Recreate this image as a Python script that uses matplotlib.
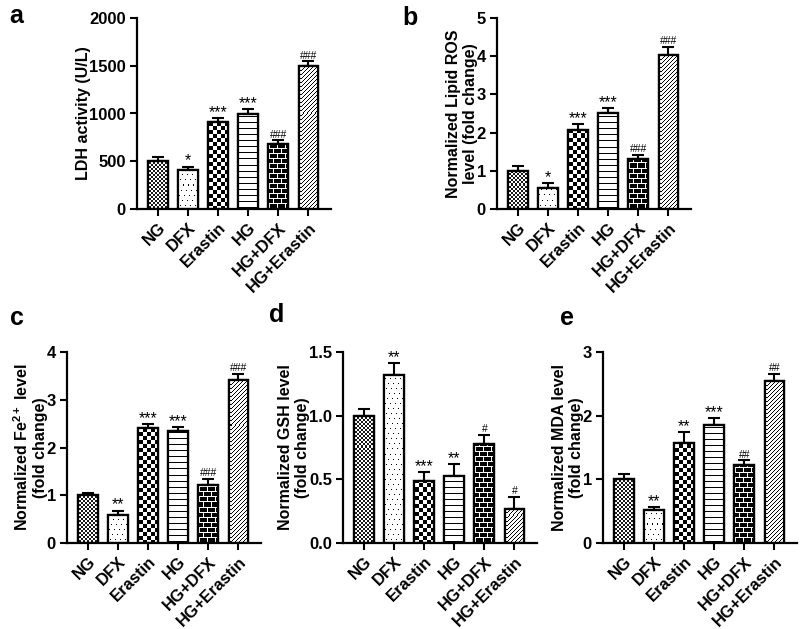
import numpy as np
import matplotlib
matplotlib.use("Agg")
import matplotlib.pyplot as plt
from matplotlib.transforms import IdentityTransform

plt.rcParams['font.family'] = ['Liberation Sans', 'DejaVu Sans']
plt.rcParams['font.weight'] = 'bold'
plt.rcParams['mathtext.fontset'] = 'custom'
plt.rcParams['mathtext.rm'] = 'Liberation Sans:bold'
plt.rcParams['mathtext.it'] = 'Liberation Sans:bold'
plt.rcParams['mathtext.bf'] = 'Liberation Sans:bold'
plt.rcParams['mathtext.default'] = 'rm'

groups = ["NG", "DFX", "Erastin", "HG", "HG+DFX", "HG+Erastin"]

ldh = [500, 410, 910, 995, 680, 1500]
ldh_err = [45, 35, 45, 50, 40, 45]
ldh_sig = ["", "*", "***", "***", "###", "###"]

ros = [1.0, 0.55, 2.08, 2.52, 1.32, 4.03]
ros_err = [0.13, 0.13, 0.15, 0.13, 0.10, 0.22]
ros_sig = ["", "*", "***", "***", "###", "###"]

fe = [1.0, 0.58, 2.40, 2.35, 1.22, 3.42]
fe_err = [0.05, 0.10, 0.10, 0.08, 0.12, 0.12]
fe_sig = ["", "**", "***", "***", "###", "###"]

gsh = [1.0, 1.32, 0.49, 0.53, 0.78, 0.27]
gsh_err = [0.05, 0.09, 0.07, 0.09, 0.07, 0.09]
gsh_sig = ["", "**", "***", "**", "#", "#"]

mda = [1.0, 0.52, 1.57, 1.85, 1.22, 2.54]
mda_err = [0.09, 0.04, 0.17, 0.11, 0.08, 0.12]
mda_sig = ["", "**", "**", "***", "##", "##"]

panels = [
    dict(letter="a", vals=ldh, err=ldh_err, sig=ldh_sig, ylabel="LDH activity (U/L)",
         yticks=[0, 500, 1000, 1500, 2000], ylabels=["0", "500", "1000", "1500", "2000"]),
    dict(letter="b", vals=ros, err=ros_err, sig=ros_sig,
         ylabel="Normalized Lipid ROS\nlevel (fold change)",
         yticks=[0, 1, 2, 3, 4, 5], ylabels=["0", "1", "2", "3", "4", "5"]),
    dict(letter="c", vals=fe, err=fe_err, sig=fe_sig,
         ylabel="Normalized Fe$^{2+}$ level\n(fold change)",
         yticks=[0, 1, 2, 3, 4], ylabels=["0", "1", "2", "3", "4"]),
    dict(letter="d", vals=gsh, err=gsh_err, sig=gsh_sig,
         ylabel="Normalized GSH level\n(fold change)",
         yticks=[0, 0.5, 1.0, 1.5], ylabels=["0.0", "0.5", "1.0", "1.5"]),
    dict(letter="e", vals=mda, err=mda_err, sig=mda_sig,
         ylabel="Normalized MDA level\n(fold change)",
         yticks=[0, 1, 2, 3], ylabels=["0", "1", "2", "3"]),
]

W, H = 800, 629
fig = plt.figure(figsize=(8.0, 6.29), dpi=100)

# axes boxes in pixels: left, top, width, height
boxes = [(137, 18, 194, 191), (497, 18, 194, 191),
         (67, 352, 194, 191), (343, 352, 194, 191), (603, 352, 194, 191)]
letters_pos = [(9, 23), (402, 25), (10, 325), (269, 322), (560, 325)]


def pattern(kind, h, w):
    i, j = np.indices((h, w))
    if kind == "fine":
        m = ((i // 2 + j // 2) % 2) == 0
    elif kind == "dots":
        m = ((i % 5) == 2) & (((j + (i // 5) * 2) % 5) == 2)
    elif kind == "checker":
        m = ((i // 4 + j // 4) % 2) == 0
    elif kind == "hlines":
        m = (i % 6) == 3
    elif kind == "bricks":
        row = i // 5
        mortar = ((i % 5) == 0) | (((j + (row % 2) * 4) % 8) == 0)
        m = ~mortar
    else:  # diagonal
        m = ((i + j) % 4) == 0
    img = np.ones((h, w, 4))
    img[m, :3] = 0.0
    if kind == "fine":
        img[m, :3] = 0.1
    return img


kinds = ["fine", "dots", "checker", "hlines", "bricks", "diag"]
x = np.arange(len(groups))

for p, (l, t, w, h), (lx, ly) in zip(panels, boxes, letters_pos):
    ax = fig.add_axes([l / W, 1 - (t + h) / H, w / W, h / H])
    ymax = p["yticks"][-1]
    bars = ax.bar(x, p["vals"], width=0.66, facecolor="white", edgecolor="black",
                  linewidth=1.6, zorder=2)
    bb = ax.get_window_extent()
    x0, x1 = int(np.floor(bb.x0)), int(np.ceil(bb.x1))
    y0, y1 = int(np.floor(bb.y0)), int(np.ceil(bb.y1))
    for bar, kind in zip(bars, kinds):
        img = pattern(kind, y1 - y0, x1 - x0)
        im = ax.imshow(img, extent=(x0, x1, y0, y1), transform=IdentityTransform(),
                       interpolation="nearest", aspect="auto", zorder=2.5, origin="upper")
        im.set_clip_path(bar)
    ax.bar(x, p["vals"], width=0.66, facecolor="none", edgecolor="black",
           linewidth=1.6, zorder=3)
    ax.errorbar(x, p["vals"], yerr=[np.zeros(len(x)), p["err"]], fmt="none",
                ecolor="black", elinewidth=1.5, capsize=4.5, capthick=1.5, zorder=4)
    for xi, v, e, s in zip(x, p["vals"], p["err"], p["sig"]):
        if s:
            fs = 11.5 if "*" in s else 7.5
            dy = -1.5 if "*" in s else 0.5
            ax.annotate(s, (xi, v + e), xytext=(0, dy), textcoords="offset points",
                        ha="center", va="bottom", fontsize=fs, fontweight="normal")
    ax.set_xlim(-0.7, 5.75)
    ax.set_ylim(0, ymax)
    ax.set_yticks(p["yticks"])
    ax.set_yticklabels(p["ylabels"], fontsize=12, fontweight="bold")
    ax.set_xticks(x)
    ax.set_xticklabels(groups, rotation=45, ha="right", rotation_mode="anchor",
                       fontsize=12, fontweight="bold")
    ax.set_ylabel(p["ylabel"], fontsize=11.5, fontweight="bold", labelpad=-1)
    for side in ["top", "right"]:
        ax.spines[side].set_visible(False)
    for side in ["left", "bottom"]:
        ax.spines[side].set_linewidth(1.6)
    ax.tick_params(axis="both", width=1.5, length=5, direction="out", pad=3)
    fig.text(lx / W, 1 - ly / H, p["letter"], fontsize=18, fontweight="bold",
             ha="left", va="baseline")

fig.savefig("out.png", dpi=100)
